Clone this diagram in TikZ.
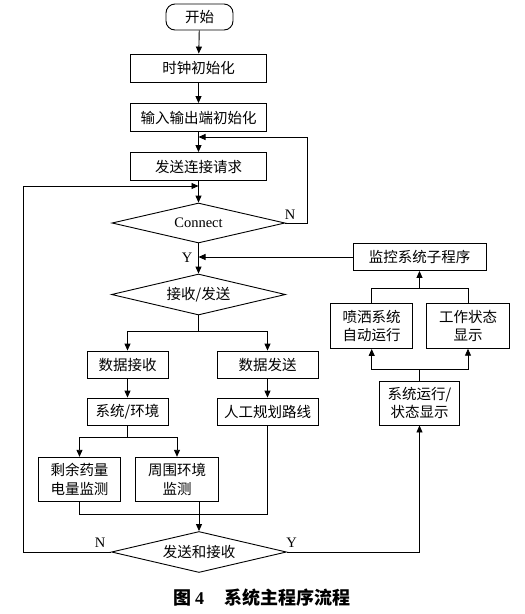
\documentclass[tikz,border=0pt]{standalone}
\usepackage{fontspec}
\setmainfont{Liberation Serif}
\newfontfamily\cjk{Noto Sans CJK SC}
\usetikzlibrary{shapes.geometric,arrows.meta}
\tikzset{
  box/.style={draw, line width=0.9pt, inner sep=0pt, align=center,
    font=\cjk\fontsize{14.5}{18.5}\selectfont},
  dia/.style={draw, diamond, aspect=4.5, line width=0.9pt, inner sep=0pt,
    font=\cjk\fontsize{14.5}{18.5}\selectfont},
  arr/.style={line width=0.9pt, -{Triangle[length=7pt,width=6pt]}},
  ln/.style={line width=0.9pt},
  lab/.style={inner sep=0pt, font=\fontsize{14.5}{17}\selectfont},
}
\begin{document}
\begin{tikzpicture}[x=1pt,y=-1pt]
\useasboundingbox[fill=white] (0,0) rectangle (525,614);
% main column
\node[box, rounded corners=9pt, minimum width=67pt, minimum height=26pt] (start) at (199.5,17) {开始};
\node[box, minimum width=136pt, minimum height=28pt] (clk) at (198.5,68) {时钟初始化};
\node[box, minimum width=136pt, minimum height=28pt] (io) at (198.5,117.5) {输入输出端初始化};
\node[box, minimum width=136pt, minimum height=28pt] (req) at (198.5,166.5) {发送连接请求};
\node[dia, minimum width=173pt, minimum height=40pt, font=\fontsize{14.5}{17}\selectfont] (conn) at (198.5,223) {Connect};
\node[dia, minimum width=174pt, minimum height=41pt] (rs) at (198.5,294.5) {接收/发送};
\node[box, minimum width=81pt, minimum height=27pt] (recv) at (127.5,364.5) {数据接收};
\node[box, minimum width=101pt, minimum height=27pt] (send) at (267.5,364.5) {数据发送};
\node[box, minimum width=81pt, minimum height=27pt] (sysenv) at (127.5,411.5) {系统/环境};
\node[box, minimum width=101pt, minimum height=27pt] (route) at (267.5,411.5) {人工规划路线};
\node[box, minimum width=82.5pt, minimum height=44.5pt] (remain) at (79.5,479.5) {剩余药量\\电量监测};
\node[box, minimum width=82.5pt, minimum height=44.5pt] (env) at (177,479.5) {周围环境\\监测};
\node[dia, minimum width=175pt, minimum height=41pt] (sr) at (199,552) {发送和接收};
% right column
\node[box, minimum width=133pt, minimum height=27pt] (mon) at (419.5,257) {监控系统子程序};
\node[box, minimum width=82pt, minimum height=45pt] (spray) at (371.7,326) {喷洒系统\\自动运行};
\node[box, minimum width=82.5pt, minimum height=44.5pt] (status) at (468,326) {工作状态\\显示};
\node[box, minimum width=80pt, minimum height=44pt] (sysrun) at (419.5,403) {系统运行/\\状态显示};
% labels
\node[lab] (ln1) at (290,215) {N};
\node[lab] (ly1) at (187,258) {Y};
\node[lab] (ln2) at (100,543) {N};
\node[lab] (ly2) at (291.5,543) {Y};
% caption
\node[anchor=west, inner sep=0pt, font=\cjk\bfseries\fontsize{18}{20}\selectfont] (cap1) at (173,598) {图\hspace{4pt}{\rmfamily\bfseries 4}};
\node[anchor=west, inner sep=0pt, font=\cjk\bfseries\fontsize{18}{20}\selectfont] (cap2) at (224,598) {系统主程序流程};
% coordinates
\coordinate (nr) at (307,223);
\coordinate (jt) at (198.5,137);
\coordinate (lb) at (23.3,552);
\coordinate (jl) at (198.5,186);
\coordinate (jy) at (198.5,257);
\coordinate (s1) at (198.5,331);
\coordinate (s2) at (127.5,437.3);
\coordinate (mg) at (267.5,514.3);
\coordinate (s3) at (419.5,288.3);
\coordinate (s4) at (419.5,369);
% connectors
\draw[arr] (start) -- (clk);
\draw[arr] (clk) -- (io);
\draw[arr] (io) -- (req);
\draw[arr] (req) -- (conn);
\draw[arr] (conn) -- (rs);
\draw[arr] (conn.east) -- (nr) |- (jt);
\draw[arr] (sr.west) -- (lb) |- (jl);
\draw[arr] (mon.west) -- (jy);
\draw[ln] (rs.south) -- (s1);
\draw[arr] (s1) -| (recv.north);
\draw[arr] (s1) -| (send.north);
\draw[arr] (recv) -- (sysenv);
\draw[arr] (send) -- (route);
\draw[ln] (sysenv.south) -- (s2);
\draw[arr] (s2) -| (remain.north);
\draw[arr] (s2) -| (env.north);
\draw[ln] (remain.south) |- (mg) -- (route.south);
\draw[arr] (env.south -| sr.north) -- (sr.north);
\draw[arr] (sr.east) -| (sysrun.south);
\draw[ln] (sysrun.north) -- (s4);
\draw[arr] (s4) -| (spray.south);
\draw[arr] (s4) -| (status.south);
\draw[ln] (spray.north) |- (s3);
\draw[ln] (status.north) |- (s3);
\draw[arr] (s3) -- (mon.south);
\end{tikzpicture}
\end{document}
